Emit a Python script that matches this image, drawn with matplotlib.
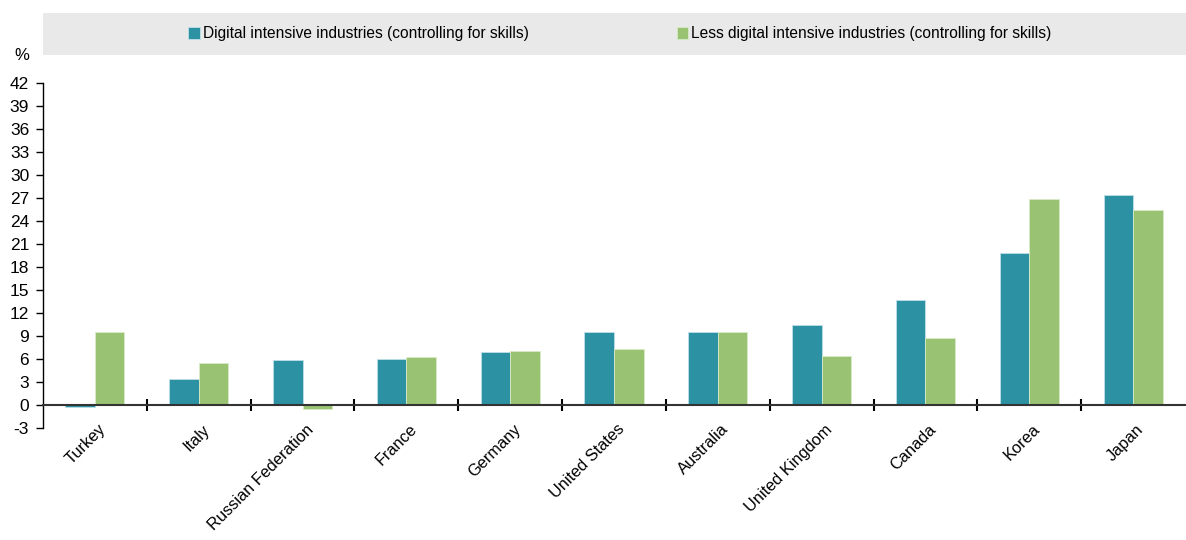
import numpy as np
import matplotlib.pyplot as plt
from matplotlib.patches import Rectangle
from matplotlib import font_manager

# data
countries = ["Turkey", "Italy", "Russian Federation", "France", "Germany", "United States",
             "Australia", "United Kingdom", "Canada", "Korea", "Japan"]
digital = [-0.3, 3.4, 5.9, 6.0, 6.9, 9.5, 9.5, 10.4, 13.7, 19.8, 27.4]
less_digital = [9.5, 5.5, -0.5, 6.2, 7.0, 7.3, 9.5, 6.4, 8.7, 26.9, 25.5]
yticks = list(range(-3, 43, 3))

names = {f.name for f in font_manager.fontManager.ttflist}
fam = "Liberation Sans Narrow" if "Liberation Sans Narrow" in names else "Liberation Sans"
plt.rcParams['font.family'] = [fam, 'DejaVu Sans']
plt.rcParams['font.size'] = 12
plt.rcParams['axes.unicode_minus'] = False

blue = "#2B91A3"
green = "#99C372"

fig = plt.figure(figsize=(11.86, 5.40), dpi=100)
ax = fig.add_axes([43/1186, (540-428)/540, (1185-43)/1186, (428-83)/540])

x = np.arange(len(countries))
w = 0.285
ax.bar(x - w/2, digital, w, color=blue, edgecolor="#BFE0E6", linewidth=0.6,
       label="Digital intensive industries (controlling for skills)")
ax.bar(x + w/2, less_digital, w, color=green, edgecolor="#D8EBC8", linewidth=0.6,
       label="Less digital intensive industries (controlling for skills)")

ax.set_xlim(-0.5, len(countries) - 0.5)
ax.set_ylim(-3, 42)
ax.set_yticks(yticks)
ax.tick_params(axis='y', direction='out', length=5, width=1, pad=5, labelsize=12.5)

ax.spines['top'].set_visible(False)
ax.spines['right'].set_visible(False)
ax.spines['bottom'].set_position(('data', 0))
ax.spines['bottom'].set_color('#333333')
ax.spines['bottom'].set_linewidth(1.5)
ax.spines['left'].set_linewidth(1)

ax.set_xticks(x + 0.03)
ax.set_xticklabels(countries, rotation=45, ha='right', rotation_mode='anchor')
ax.tick_params(axis='x', which='major', length=0, pad=12, labelsize=11.8)
ax.set_xticks(x[:-1] + 0.5, minor=True)
ax.tick_params(axis='x', which='minor', direction='inout', length=8, width=1.5)

fig.text(22/1186, 1 - 55/540, "%", ha='center', va='center', fontsize=12)

# grey legend band
fig.patches.append(Rectangle((43/1186, 1 - 55/540), (1186-43)/1186, 42/540,
                             transform=fig.transFigure, facecolor="#E9E9E9",
                             edgecolor='none', zorder=0))
fig.legend(loc='center', bbox_to_anchor=(620/1186, 1 - 34/540), ncol=2,
           frameon=False, handlelength=0.75, handleheight=0.75, handletextpad=0.2,
           columnspacing=9.5, fontsize=11.2)

fig.savefig("out.png", dpi=100)
